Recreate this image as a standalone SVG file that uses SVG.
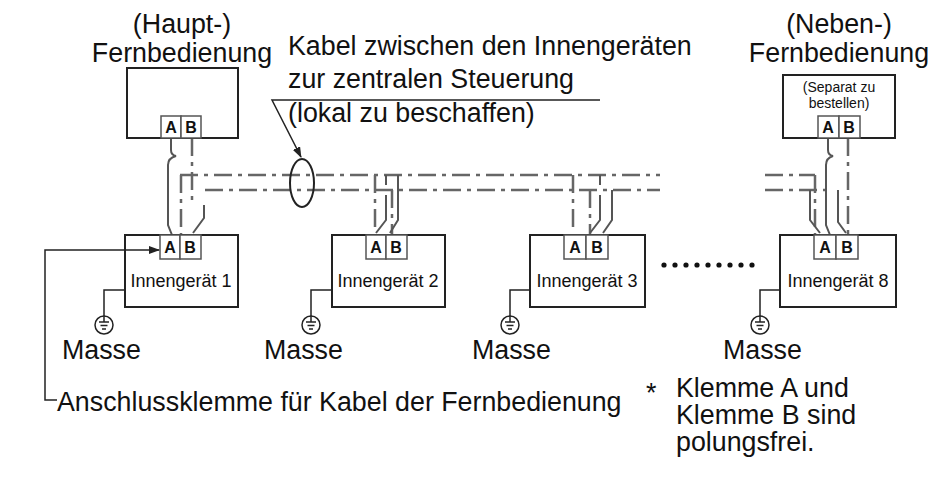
<svg xmlns="http://www.w3.org/2000/svg" width="938" height="486" viewBox="0 0 938 486">
<defs><style>
text{font-family:"Liberation Sans",Arial,sans-serif;fill:#111}
.t{font-size:26.8px}.s{font-size:18px}.xs{font-size:14px}.tb{font-size:16px;font-weight:bold}
.b{fill:#fff;stroke:#222;stroke-width:2}
.term{fill:#fff;stroke:#555;stroke-width:1.5}
.w{fill:none;stroke:#555;stroke-width:2}
.dd{fill:none;stroke:#666;stroke-width:2.5;stroke-dasharray:18,6,4,6}
.l{fill:none;stroke:#222;stroke-width:1.5}
</style>
<marker id="ar" markerWidth="11" markerHeight="8" refX="10" refY="4" orient="auto" markerUnits="userSpaceOnUse"><path d="M0,0L11,4L0,8z" fill="#222"/></marker>
<g id="gnd"><line x1="0" y1="-8" x2="0" y2="0" class="l"/><circle cx="0" cy="9" r="9" fill="#fff" stroke="#222" stroke-width="1.5"/><line x1="0" y1="0" x2="0" y2="6" class="l"/><line x1="-5" y1="6" x2="5" y2="6" class="l"/><line x1="-3.5" y1="9.5" x2="3.5" y2="9.5" class="l"/><line x1="-2" y1="13" x2="2" y2="13" class="l"/></g>
</defs>
<rect width="938" height="486" fill="#fff"/>
<g id="connectors">
<path class="dd" d="M180,175 H660 M205,190 H660 M765,175 H815 M765,190 H830"/>
<path class="dd" d="M192,138 V200 M181,175 V235 M375,175 V232 M392,190 V235 M573,175 V232 M590,190 V235 M815,175 V235 M848,138 V235"/>
<path class="w" d="M171,138 V150 Q171,155 176,156 Q168,158 168,165 V225 L172,235 M204,205 V218 L193,233 M386,175 V185 M386,195 V220 L376,233 M398,175 V220 L390,233 M600,175 V185 M600,195 V220 L590,233 M612,190 V220 L603,233 M828,138 V150 Q828,155 833,156 Q826,158 826,165 V225 L830,235 M810,190 V220 L820,233 M838,190 V222 L846,233"/>
<ellipse cx="302" cy="183" rx="12" ry="24" fill="none" stroke="#222" stroke-width="2"/>
<path class="l" d="M600,100 H272 L301,157" marker-end="url(#ar)"/>
<path class="l" d="M57,400 H45 V250 H125"/>
<path class="l" d="M125,290 H104 V308 M332,290 H311 V308 M530,290 H510 V308 M780,290 H760 V308"/>
</g>
<use href="#gnd" x="104" y="316"/><use href="#gnd" x="311" y="316"/><use href="#gnd" x="510" y="316"/><use href="#gnd" x="760" y="316"/>
<g id="main-remote"><rect class="b" x="127" y="68" width="111" height="70"/><rect class="term" x="161" y="116" width="20" height="22"/><rect class="term" x="181" y="116" width="20" height="22"/><text class="tb" x="171" y="133" text-anchor="middle">A</text><text class="tb" x="191" y="133" text-anchor="middle">B</text>
<text class="t" x="182" y="33" text-anchor="middle">(Haupt-)</text><text class="t" x="182" y="62" text-anchor="middle">Fernbedienung</text></g>
<g id="sub-remote"><rect class="b" x="783" y="75" width="112" height="63"/><rect class="term" x="818" y="116" width="21" height="22"/><rect class="term" x="839" y="116" width="21" height="22"/><text class="tb" x="828" y="133" text-anchor="middle">A</text><text class="tb" x="849" y="133" text-anchor="middle">B</text>
<text class="xs" x="839" y="92" text-anchor="middle">(Separat zu</text><text class="xs" x="839" y="108" text-anchor="middle">bestellen)</text>
<text class="t" x="839" y="33" text-anchor="middle">(Neben-)</text><text class="t" x="839" y="62" text-anchor="middle">Fernbedienung</text></g>
<g id="unit1"><rect class="b" x="125" y="235" width="113" height="72"/><rect class="term" x="160" y="235" width="20" height="24"/><rect class="term" x="180" y="235" width="21" height="24"/><text class="tb" x="170" y="253" text-anchor="middle">A</text><text class="tb" x="190" y="253" text-anchor="middle">B</text><text class="s" x="181" y="287" text-anchor="middle">Innengerät 1</text></g>
<g id="unit2"><rect class="b" x="332" y="235" width="113" height="72"/><rect class="term" x="366" y="235" width="20" height="24"/><rect class="term" x="386" y="235" width="21" height="24"/><text class="tb" x="376" y="253" text-anchor="middle">A</text><text class="tb" x="396" y="253" text-anchor="middle">B</text><text class="s" x="388" y="287" text-anchor="middle">Innengerät 2</text></g>
<g id="unit3"><rect class="b" x="530" y="235" width="115" height="72"/><rect class="term" x="564" y="235" width="22" height="24"/><rect class="term" x="586" y="235" width="22" height="24"/><text class="tb" x="575" y="253" text-anchor="middle">A</text><text class="tb" x="597" y="253" text-anchor="middle">B</text><text class="s" x="587" y="287" text-anchor="middle">Innengerät 3</text></g>
<g id="unit8"><rect class="b" x="780" y="235" width="116" height="72"/><rect class="term" x="814" y="235" width="22" height="24"/><rect class="term" x="836" y="235" width="22" height="24"/><text class="tb" x="825" y="253" text-anchor="middle">A</text><text class="tb" x="847" y="253" text-anchor="middle">B</text><text class="s" x="838" y="287" text-anchor="middle">Innengerät 8</text></g>
<g id="leader-arrow"><path class="l" d="M125,250 H159" marker-end="url(#ar)"/></g>
<g id="dots" fill="#111"><circle cx="664" cy="265" r="2.6"/><circle cx="675" cy="265" r="2.6"/><circle cx="686" cy="265" r="2.6"/><circle cx="697" cy="265" r="2.6"/><circle cx="708" cy="265" r="2.6"/><circle cx="719" cy="265" r="2.6"/><circle cx="730" cy="265" r="2.6"/><circle cx="741" cy="265" r="2.6"/><circle cx="752" cy="265" r="2.6"/></g>
<g id="labels">
<text class="t" x="288" y="55">Kabel zwischen den Innengeräten</text>
<text class="t" x="288" y="88">zur zentralen Steuerung</text>
<text class="t" x="288" y="122">(lokal zu beschaffen)</text>
<text class="t" x="62" y="359">Masse</text><text class="t" x="264" y="359">Masse</text><text class="t" x="472" y="359">Masse</text><text class="t" x="723" y="359">Masse</text>
<text class="t" x="57" y="411">Anschlussklemme für Kabel der Fernbedienung</text>
<text class="t" x="646" y="402">*</text>
<text class="t" x="676" y="397">Klemme A und</text><text class="t" x="676" y="424">Klemme B sind</text><text class="t" x="676" y="451">polungsfrei.</text>
</g>
</svg>
